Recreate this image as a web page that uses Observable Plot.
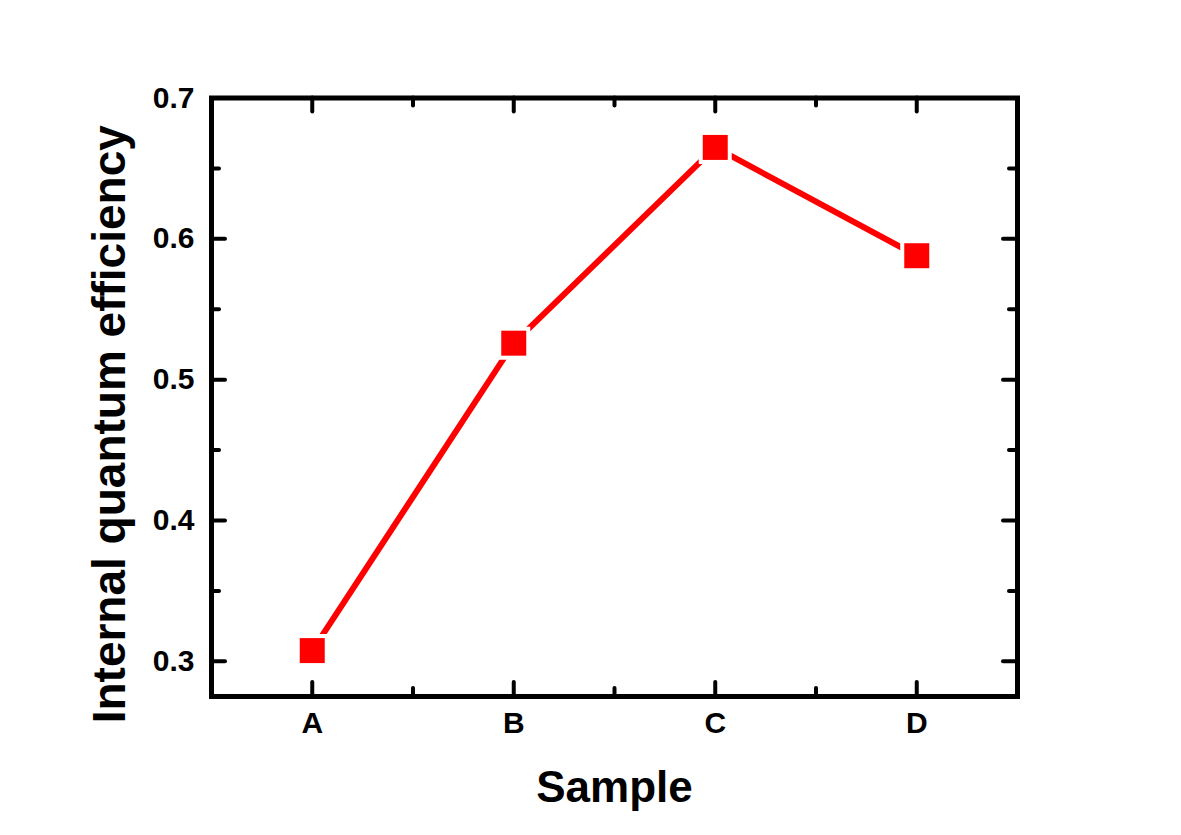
<!DOCTYPE html>
<html>
<head>
<meta charset="utf-8">
<script src="https://cdn.jsdelivr.net/npm/d3@7"></script>
<script src="https://cdn.jsdelivr.net/npm/@observablehq/plot@0.6"></script>
<style>
  html, body { margin: 0; padding: 0; background: #fff; }
  #chart svg { display: block; }
</style>
</head>
<body>
<div id="chart"></div>
<script>
const samples = ["A", "B", "C", "D"];
const iqe = [0.3076, 0.5259, 0.6649, 0.588];
const yMajorTicks = [0.3, 0.4, 0.5, 0.6, 0.7];
const yMinorTicks = [0.35, 0.45, 0.55, 0.65];
const xMajorTicks = [1, 2, 3, 4];
const xMinorTicks = [1.5, 2.5, 3.5];
const xTitle = "Sample";
const yTitle = "Internal quantum efficiency";

const data = samples.map((s, i) => ({sample: s, pos: i + 1, value: iqe[i]}));

const W = 1181, H = 835;
const mL = 211, mR = 164, mT = 97.5, mB = 139;
const fw = W - mL - mR, fh = H - mT - mB;
const font = "'Liberation Sans', Arial, sans-serif";
const major = 14, minor = 8;

const tickStyle = {stroke: "black", strokeWidth: 4, strokeLinecap: "round"};

const chart = Plot.plot({
  width: W,
  height: H,
  marginLeft: mL,
  marginRight: mR,
  marginTop: mT,
  marginBottom: mB,
  style: {fontFamily: font, background: "white"},
  x: {domain: [0.5, 4.5]},
  y: {domain: [0.275, 0.7]},
  marks: [
    // ticks: bottom
    Plot.tickX(xMajorTicks, {x: d => d, insetTop: fh - major, ...tickStyle}),
    Plot.tickX(xMinorTicks, {x: d => d, insetTop: fh - minor, ...tickStyle}),
    // ticks: top
    Plot.tickX(xMajorTicks, {x: d => d, insetBottom: fh - major, ...tickStyle}),
    Plot.tickX(xMinorTicks, {x: d => d, insetBottom: fh - minor, ...tickStyle}),
    // ticks: left
    Plot.tickY(yMajorTicks, {y: d => d, insetRight: fw - major, ...tickStyle}),
    Plot.tickY(yMinorTicks, {y: d => d, insetRight: fw - minor, ...tickStyle}),
    // ticks: right
    Plot.tickY(yMajorTicks, {y: d => d, insetLeft: fw - major, ...tickStyle}),
    Plot.tickY(yMinorTicks, {y: d => d, insetLeft: fw - minor, ...tickStyle}),
    Plot.frame({stroke: "black", strokeWidth: 5}),
    Plot.axisX(xMajorTicks, {
      anchor: "bottom", tickSize: 0, tickPadding: 15,
      tickFormat: d => samples[d - 1],
      fontSize: 30, fontWeight: "bold", fill: "black", label: null
    }),
    Plot.axisY(yMajorTicks, {
      anchor: "left", tickSize: 0, tickPadding: 17,
      tickFormat: d => d.toFixed(1),
      fontSize: 30, fontWeight: "bold", fill: "black", label: null
    }),
    Plot.line(data, {x: "pos", y: "value", stroke: "#ff0000", strokeWidth: 6}),
    Plot.dot(data, {x: "pos", y: "value", symbol: "square", r: 33 / Math.sqrt(Math.PI), fill: "white", stroke: null}),
    Plot.dot(data, {x: "pos", y: "value", symbol: "square", r: 25 / Math.sqrt(Math.PI), fill: "#ff0000", stroke: null}),
    Plot.text([xTitle], {
      frameAnchor: "bottom", text: d => d, dy: 91, lineAnchor: "middle",
      fontSize: 44, fontWeight: "bold", fill: "black"
    }),
    Plot.text([yTitle], {
      frameAnchor: "left", text: d => d, dx: -101, dy: 27, rotate: -90,
      lineAnchor: "middle", textAnchor: "middle",
      fontSize: 46, fontWeight: "bold", fill: "black"
    })
  ]
});

document.getElementById("chart").appendChild(chart);
</script>
</body>
</html>
